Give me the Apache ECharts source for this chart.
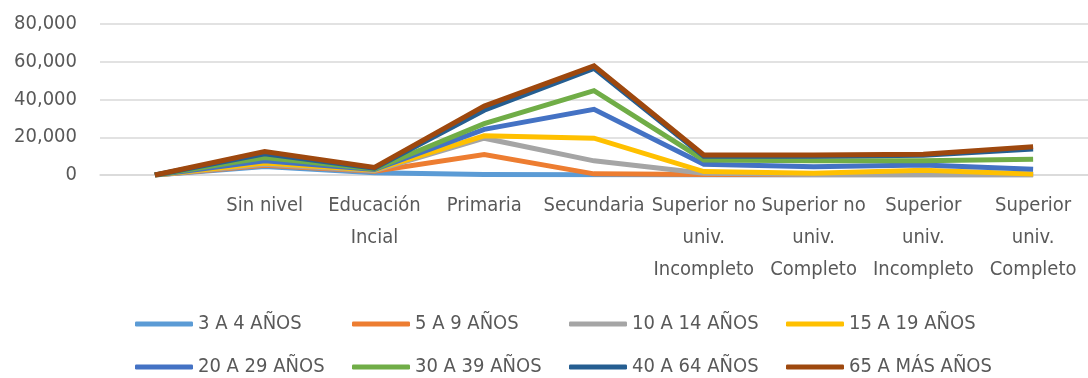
<!DOCTYPE html>
<html>
<head>
<meta charset="utf-8">
<script src="https://cdn.jsdelivr.net/npm/echarts@6/dist/echarts.min.js"></script>
<style>
html,body{margin:0;padding:0;background:#fff;}
#chart{width:1088px;height:378px;}
</style>
</head>
<body>
<div id="chart"></div>
<script>
var categories = ['', 'Sin nivel', 'Educación\nIncial', 'Primaria', 'Secundaria', 'Superior no\nuniv.\nIncompleto', 'Superior no\nuniv.\nCompleto', 'Superior\nuniv.\nIncompleto', 'Superior\nuniv.\nCompleto'];
var seriesNames = ['3 A 4 AÑOS', '5 A 9 AÑOS', '10 A 14 AÑOS', '15 A 19 AÑOS', '20 A 29 AÑOS', '30 A 39 AÑOS', '40 A 64 AÑOS', '65 A MÁS AÑOS'];
var s3a4 =   [0, 4500, 1200, 300, 100, 0, 0, 0, 0];
var s5a9 =   [0, 700, 800, 10500, 500, 200, 100, 100, 100];
var s10a14 = [0, 500, 300, 8700, 6900, 700, 200, 200, 100];
var s15a19 = [0, 600, 300, 1300, 12000, 900, 600, 2200, 300];
var s20a29 = [0, 1300, 300, 3400, 15300, 3900, 3500, 2800, 2500];
var s30a39 = [0, 1600, 300, 3000, 9900, 2300, 3200, 2300, 5300];
var s40a64 = [0, 2000, 400, 7100, 11800, 2000, 2400, 2800, 5500];
var s65mas = [0, 1200, 400, 2200, 1300, 600, 600, 600, 1200];
var yTicks = [0, 20000, 40000, 60000, 80000];

var seriesData = [s3a4, s5a9, s10a14, s15a19, s20a29, s30a39, s40a64, s65mas];
var colors = ['#5B9BD5', '#ED7D31', '#A5A5A5', '#FFC000', '#4472C4', '#70AD47', '#255E91', '#9E480E'];
var FONT = '"Liberation Sans Narrow", "Arial Narrow", "DejaVu Sans Condensed", "Liberation Sans", sans-serif';
var TXT = '#595959';

var chart = echarts.init(document.getElementById('chart'));
var legendText = {color: TXT, fontFamily: FONT, fontSize: 20, width: 134, lineHeight: 24};
chart.setOption({
  animation: false,
  color: colors,
  grid: {left: 100, top: 24, width: 997, height: 151, containLabel: false},
  legend: [
    {data: seriesNames.slice(0, 4), left: 130, top: 307, itemWidth: 58, itemHeight: 5, itemGap: 20, icon: 'roundRect', textStyle: legendText},
    {data: seriesNames.slice(4, 8), left: 130, top: 350, itemWidth: 58, itemHeight: 5, itemGap: 20, icon: 'roundRect', textStyle: legendText}
  ],
  xAxis: {
    type: 'category',
    data: categories,
    boundaryGap: true,
    axisTick: {show: false},
    axisLine: {lineStyle: {color: '#d9d9d9', width: 1.5}},
    axisLabel: {interval: 0, color: TXT, fontFamily: FONT, fontSize: 20, lineHeight: 32, margin: 15}
  },
  yAxis: {
    type: 'value',
    min: yTicks[0],
    max: yTicks[yTicks.length - 1],
    interval: yTicks[1] - yTicks[0],
    axisLine: {show: false},
    axisTick: {show: false},
    splitLine: {lineStyle: {color: '#d9d9d9', width: 1.5}},
    axisLabel: {color: TXT, fontFamily: FONT, fontSize: 20, margin: 23,
      formatter: function (v) { return v.toLocaleString('en-US'); }}
  },
  series: seriesData.map(function (d, i) {
    return {
      name: seriesNames[i],
      type: 'line',
      stack: 'total',
      data: d,
      symbol: 'none',
      lineStyle: {width: 5, color: colors[i], join: 'miter'},
      itemStyle: {color: colors[i]},
      z: 2 + i
    };
  })
});
</script>
</body>
</html>
